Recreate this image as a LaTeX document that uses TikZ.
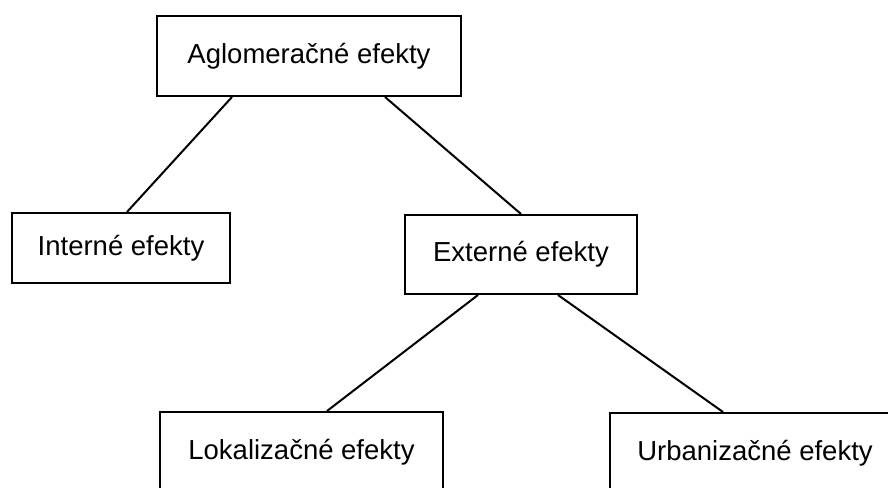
\documentclass[tikz,border=0pt]{standalone}
\usepackage{fontspec}
\setmainfont{Liberation Sans}
\usepackage{tikz}

\tikzset{
  effbox/.style={draw, rectangle, line width=2pt, minimum height=80pt, inner sep=0pt,
    font=\fontsize{27.5}{33}\selectfont},
  effline/.style={line width=2pt}
}

\begin{document}
\begin{tikzpicture}[x=1pt, y=-1pt] % one unit = one pixel of the picture
        \clip (0,0) rectangle (888,487);
        % boxes
        \node[effbox, minimum width=304pt] (aglo) at (309,56) {Aglomeračné efekty};
        \node[effbox, minimum width=218pt, minimum height=70pt] (interne) at (121,248) {Interné efekty};
        \node[effbox, minimum width=232pt, minimum height=79pt] (externe) at (521,254.5) {Externé efekty};
        \node[effbox, minimum width=283pt] (lokal) at (301.5,452) {Lokalizačné efekty};
        \node[effbox, minimum width=290pt] (urban) at (755,453) {Urbanizačné efekty};
        % connectors
        \draw[effline] ([xshift=-77pt]aglo.south) -- ([xshift=6pt]interne.north);
        \draw[effline] ([xshift=76pt]aglo.south) -- (externe.north);
        \draw[effline] ([xshift=-43pt]externe.south) -- ([xshift=25.5pt]lokal.north);
        \draw[effline] ([xshift=37pt]externe.south) -- ([xshift=-32pt]urban.north);
\end{tikzpicture}
\end{document}
